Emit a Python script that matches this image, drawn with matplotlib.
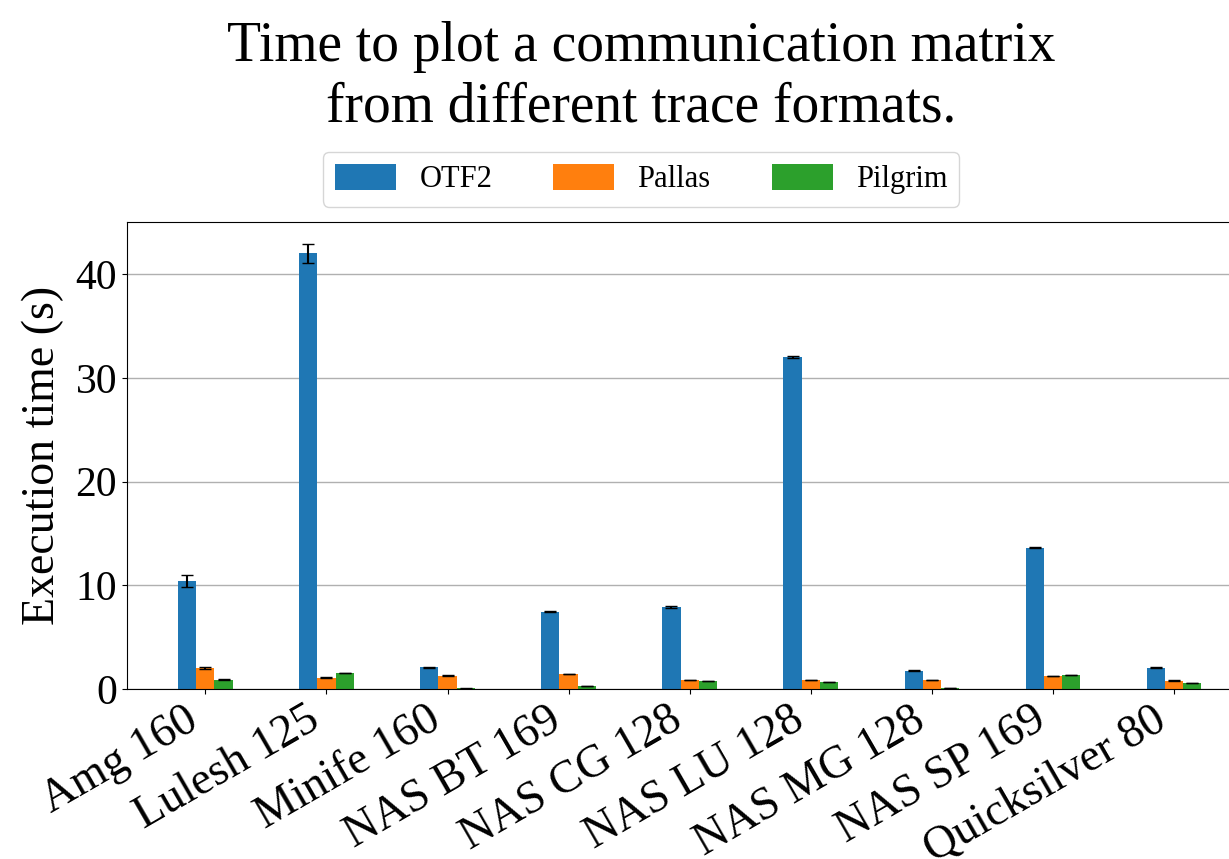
import numpy as np
import matplotlib
matplotlib.use("Agg")
import matplotlib.pyplot as plt

plt.rcParams['font.family'] = ['Liberation Serif', 'DejaVu Serif']

# benchmarks and mean execution times (s)
apps = ["Amg 160", "Lulesh 125", "Minife 160", "NAS BT 169", "NAS CG 128",
        "NAS LU 128", "NAS MG 128", "NAS SP 169", "Quicksilver 80"]
otf2 = [10.4, 42.0, 2.1, 7.43, 7.9, 32.0, 1.74, 13.6, 2.03]
pallas = [2.0, 1.06, 1.25, 1.45, 0.87, 0.87, 0.87, 1.25, 0.8]
pilgrim = [0.9, 1.55, 0.05, 0.3, 0.77, 0.68, 0.07, 1.35, 0.58]
# standard deviations
otf2_err = [0.6, 0.9, 0.05, 0.05, 0.05, 0.08, 0.05, 0.05, 0.05]
pallas_err = [0.08, 0.05, 0.05, 0.03, 0.03, 0.03, 0.03, 0.03, 0.03]
pilgrim_err = [0.05, 0.03, 0.02, 0.02, 0.03, 0.03, 0.02, 0.03, 0.03]

x = np.arange(len(apps))
w = 0.15

fig = plt.figure(figsize=(12.29, 8.59), dpi=100)
ax = fig.add_axes([0.1033, 0.198, 0.9157, 0.5437])
ax.set_axisbelow(True)
ax.yaxis.grid(True, color='#b0b0b0', linewidth=1)

ax.bar(x - w, otf2, w, yerr=otf2_err, capsize=4, color='#1f77b4', label='OTF2')
ax.bar(x, pallas, w, yerr=pallas_err, capsize=4, color='#ff7f0e', label='Pallas')
ax.bar(x + w, pilgrim, w, yerr=pilgrim_err, capsize=4, color='#2ca02c', label='Pilgrim')

ax.set_xticks(x)
ax.set_xticklabels(apps, rotation=30, ha='right', fontsize=33)
ax.tick_params(axis='y', labelsize=30)
ax.set_ylabel('Execution time (s)', fontsize=33, labelpad=8)
ax.set_yticks([0, 10, 20, 30, 40])

ax.legend(loc='lower center', bbox_to_anchor=(0.457, 1.0), ncol=3, fontsize=22,
          handlelength=2.0, handleheight=0.9, handletextpad=0.75, columnspacing=2.0)

fig.suptitle('Time to plot a communication matrix\nfrom different trace formats.',
             fontsize=40, x=0.522, y=0.975)

fig.savefig('out.png', dpi=100)
